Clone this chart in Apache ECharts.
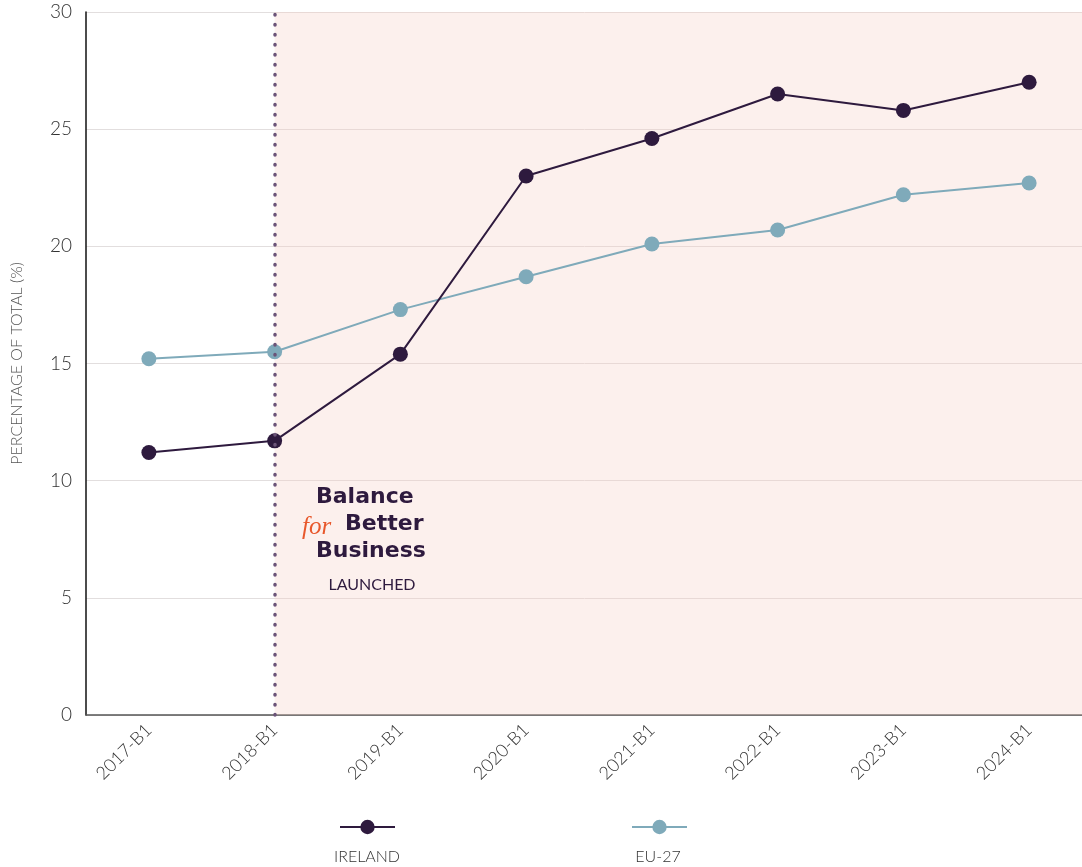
<!DOCTYPE html>
<html>
<head>
<meta charset="utf-8">
<script src="https://cdn.jsdelivr.net/npm/echarts@6/dist/echarts.min.js"></script>
<style>
  html, body { margin: 0; padding: 0; background: #fff; }
  #chart { width: 1082px; height: 867px; }
</style>
</head>
<body>
<div id="chart"></div>
<script>
var chart = echarts.init(document.querySelector('#chart'));

// data
const categories = ['2017-B1', '2018-B1', '2019-B1', '2020-B1', '2021-B1', '2022-B1', '2023-B1', '2024-B1'];
const ireland = [11.2, 11.7, 15.4, 23.0, 24.6, 26.5, 25.8, 27.0];
const eu27 = [15.2, 15.5, 17.3, 18.7, 20.1, 20.7, 22.2, 22.7];
const launchCategory = '2018-B1';
const yTicks = { min: 0, max: 30, interval: 5 };

const purple = '#2e1a3e';
const blue = '#7faaba';
const font = 'Lato, "Open Sans", sans-serif';
const boldFont = '"DejaVu Sans", sans-serif';
const launchIndex = categories.indexOf(launchCategory);

const options = {
  animation: false,
  grid: { left: 86, width: 1006, top: 12, bottom: 152, outerBoundsMode: 'none', containLabel: false },
  xAxis: [{
    type: 'category',
    data: categories,
    boundaryGap: true,
    axisLine: { lineStyle: { color: '#555', width: 1.5 } },
    axisTick: { show: false },
    axisLabel: {
      rotate: 45, margin: 12, color: '#333',
      fontFamily: font, fontWeight: 300, fontSize: 18
    }
  }, {
    // helper axis for the shaded band
    type: 'value', min: 0, max: categories.length, show: false
  }],
  yAxis: {
    type: 'value',
    min: yTicks.min, max: yTicks.max, interval: yTicks.interval,
    name: 'PERCENTAGE OF TOTAL (%)',
    nameLocation: 'middle',
    nameGap: 61,
    nameRotate: 90,
    nameTextStyle: { color: '#555', fontFamily: font, fontWeight: 300, fontSize: 16 },
    axisLine: { show: true, lineStyle: { color: '#111', width: 1.5 } },
    axisTick: { show: false },
    axisLabel: { color: '#333', fontFamily: font, fontWeight: 300, fontSize: 19, margin: 14 },
    splitLine: { lineStyle: { color: '#e2dede', width: 1 } }
  },
  legend: [{
    data: ['IRELAND'], left: 334, top: 813,
    itemWidth: 55, itemHeight: 18, formatter: function () { return ''; }
  }, {
    data: ['EU-27'], left: 626, top: 813,
    itemWidth: 55, itemHeight: 18, formatter: function () { return ''; }
  }],
  graphic: [
    { type: 'text', x: 367, y: 857, style: { text: 'IRELAND', fill: '#333', font: '300 16px ' + font, align: 'center', verticalAlign: 'middle' } },
    { type: 'text', x: 658, y: 857, style: { text: 'EU-27', fill: '#333', font: '300 16px ' + font, align: 'center', verticalAlign: 'middle' } },
    { type: 'text', x: 316, y: 497, z: 10, style: { text: 'Balance', fill: purple, font: 'bold 22px ' + boldFont, verticalAlign: 'middle' } },
    { type: 'text', x: 302, y: 527, z: 10, style: { text: 'for', fill: '#e8582c', font: 'italic 25px "Liberation Serif", serif', verticalAlign: 'middle' } },
    { type: 'text', x: 345, y: 524, z: 10, style: { text: 'Better', fill: purple, font: 'bold 22px ' + boldFont, verticalAlign: 'middle' } },
    { type: 'text', x: 316, y: 551, z: 10, style: { text: 'Business', fill: purple, font: 'bold 22px ' + boldFont, verticalAlign: 'middle' } },
    { type: 'text', x: 372, y: 585, z: 10, style: { text: 'LAUNCHED', fill: purple, font: '16px ' + font, align: 'center', verticalAlign: 'middle' } }
  ],
  series: [{
    name: 'band',
    type: 'line',
    xAxisIndex: 1,
    data: [],
    silent: true,
    z: 1,
    markArea: {
      silent: true,
      itemStyle: { color: 'rgba(245,205,195,0.3)' },
      data: [[{ xAxis: launchIndex + 0.5 }, { xAxis: categories.length }]]
    }
  }, {
    name: 'EU-27',
    type: 'line',
    data: eu27,
    z: 3,
    symbol: 'circle',
    symbolSize: 15,
    color: blue,
    lineStyle: { color: blue, width: 2 },
    itemStyle: { color: blue }
  }, {
    name: 'IRELAND',
    type: 'line',
    data: ireland,
    z: 4,
    symbol: 'circle',
    symbolSize: 15,
    color: purple,
    lineStyle: { color: purple, width: 2 },
    itemStyle: { color: purple },
    markLine: {
      silent: true,
      symbol: 'none',
      label: { show: false },
      lineStyle: { color: '#6b5478', width: 3.5, type: [0.5, 9.5], cap: 'round' },
      data: [{ xAxis: launchCategory }]
    }
  }]
};
chart.setOption(options);
</script>
</body>
</html>
